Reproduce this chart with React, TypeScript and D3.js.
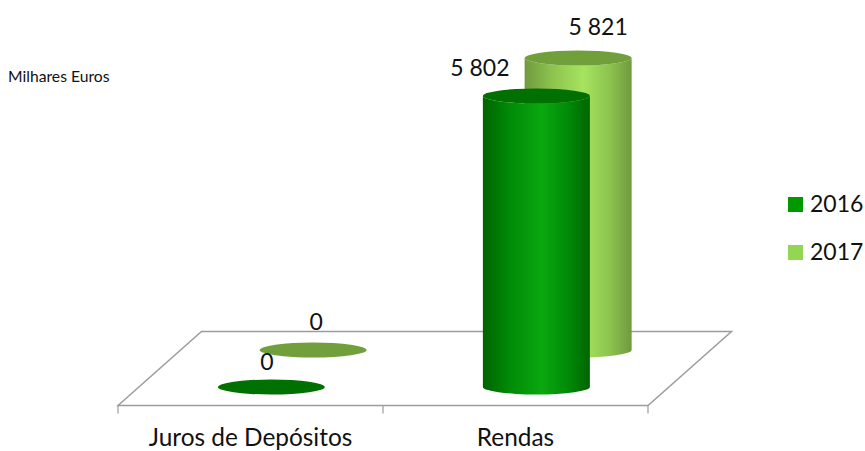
import * as d3 from 'd3';

const categories = ['Juros de Depósitos', 'Rendas'];
const years = ['2016', '2017'];
const values2016 = [0, 5802];
const values2017 = [0, 5821];
const valueLabels2016 = ['0', '5 802'];
const valueLabels2017 = ['0', '5 821'];

const FONT = 'Lato, "Open Sans", sans-serif';
const GRID = '#9c9c9c';

// floor corners of the 3d box
const frontLeft = 118;
const frontRight = 648;
const frontY = 405.5;
const backY = 331.5;
const shiftX = 83.5;

const x = d3.scaleBand<string>().domain(categories).range([frontLeft, frontRight]);
const depth = d3.scaleBand<string>().domain(years).range([0, 1]);
const height = d3.scaleLinear().domain([0, 5821]).range([0, 292]);

const colors: Record<string, { edge: string; mid: string; centre: string; cap: string; key: string }> = {
  '2016': { edge: '#006400', mid: '#008a08', centre: '#0aa80f', cap: '#007000', key: '#009a00' },
  '2017': { edge: '#6f9a3e', mid: '#8cc24e', centre: '#a6e45f', cap: '#709f3c', key: '#92d652' },
};

// where excel left the data labels, relative to the top of each cylinder
const labelOffset: Record<string, { zero: number[]; bar: number[] }> = {
  '2016': { zero: [-4.5, -17], bar: [-56.5, -19.5] },
  '2017': { zero: [3, -20.5], bar: [20, -23] },
};

const rx = 53.5;
const ry = 7.5;

function project(cat: string, year: string) {
  const d = depth(year)! + depth.bandwidth() / 2;
  return {
    cx: x(cat)! + x.bandwidth() / 2 + d * shiftX,
    cy: frontY - d * (frontY - backY),
  };
}

function Cylinder({ cat, year, value, label }: { cat: string; year: string; value: number; label: string }) {
  const { cx, cy } = project(cat, year);
  const h = height(value);
  const top = cy - h;
  const c = colors[year];
  const body = `M${cx - rx},${top}L${cx - rx},${cy}A${rx},${ry} 0 0 0 ${cx + rx},${cy}L${cx + rx},${top}A${rx},${ry} 0 0 1 ${cx - rx},${top}Z`;
  const [dx, dy] = h > 0 ? labelOffset[year].bar : labelOffset[year].zero;
  return (
    <g>
      {h > 0 && <path d={body} fill={`url(#grad${year})`} />}
      <ellipse cx={cx} cy={top} rx={rx} ry={ry} fill={c.cap} />
      <text x={cx + dx} y={top + dy} textAnchor="middle" fontFamily={FONT} fontSize={23} fill="#111">
        {label}
      </text>
    </g>
  );
}

export default function App() {
  return (
    <svg width={865} height={451} style={{ position: 'absolute', left: 0, top: 0, background: '#fff' }}>
      <defs>
        {years.map(y => (
          <linearGradient key={y} id={`grad${y}`} x1="0" x2="1" y1="0" y2="0">
            <stop offset="0%" stopColor={colors[y].edge} />
            <stop offset="25%" stopColor={colors[y].mid} />
            <stop offset="55%" stopColor={colors[y].centre} />
            <stop offset="80%" stopColor={colors[y].mid} />
            <stop offset="100%" stopColor={colors[y].edge} />
          </linearGradient>
        ))}
      </defs>

      <text x={8} y={82} fontFamily={FONT} fontSize={15.7} fill="#111">Milhares Euros</text>

      {/* floor */}
      <path
        d={`M${frontLeft},${frontY}L${frontLeft + shiftX},${backY}L${frontRight + shiftX},${backY}L${frontRight},${frontY}Z`}
        fill="none"
        stroke={GRID}
        strokeWidth={1.5}
      />
      {[frontLeft, x(categories[1])!, frontRight].map(t => (
        <line key={t} x1={t} x2={t} y1={frontY} y2={frontY + 8} stroke={GRID} strokeWidth={1.2} />
      ))}

      {/* back row first */}
      {categories.map((c, i) => (
        <Cylinder key={c} cat={c} year="2017" value={values2017[i]} label={valueLabels2017[i]} />
      ))}
      {categories.map((c, i) => (
        <Cylinder key={c} cat={c} year="2016" value={values2016[i]} label={valueLabels2016[i]} />
      ))}

      {categories.map(c => (
        <text
          key={c}
          x={x(c)! + x.bandwidth() / 2}
          y={446}
          textAnchor="middle"
          fontFamily={FONT}
          fontSize={24.4}
          fill="#111"
        >
          {c}
        </text>
      ))}

      {years.map((y, i) => (
        <g key={y} transform={`translate(788,${197 + i * 48})`}>
          <rect width={15} height={15} fill={colors[y].key} />
          <text x={22} y={15} fontFamily={FONT} fontSize={23} fill="#111">{y}</text>
        </g>
      ))}
    </svg>
  );
}
